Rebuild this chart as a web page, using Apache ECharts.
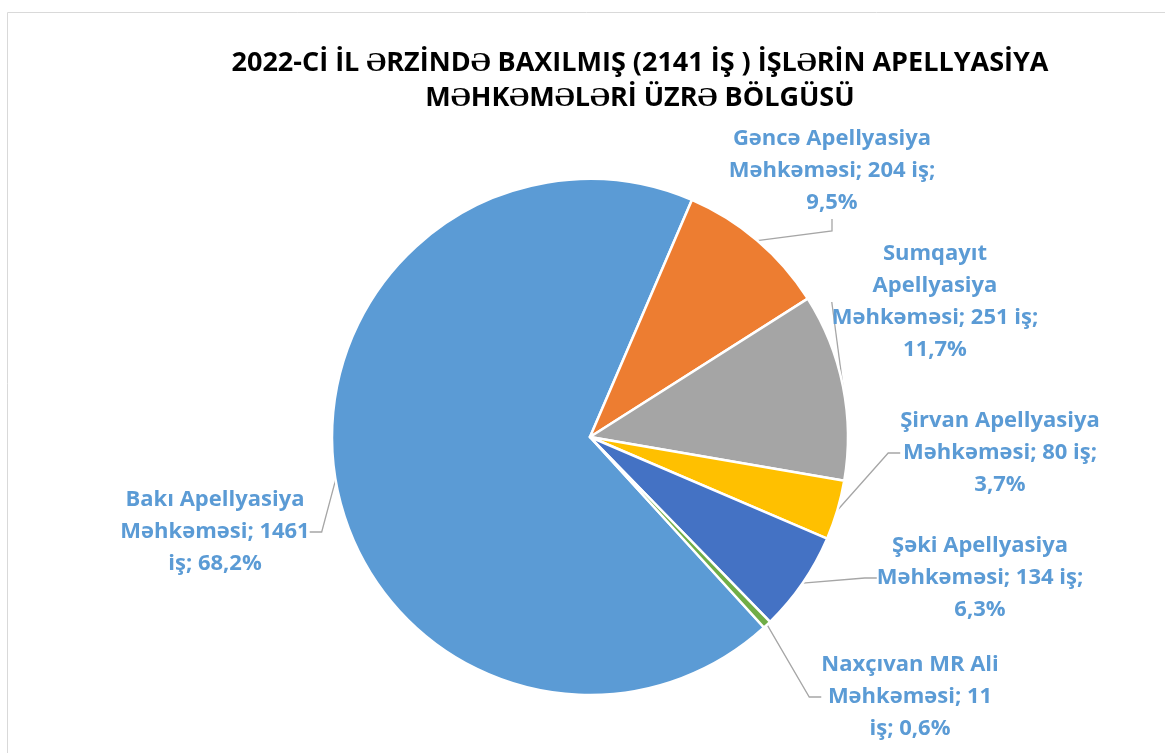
<!DOCTYPE html>
<html>
<head>
<meta charset="utf-8">
<script src="https://cdn.jsdelivr.net/npm/echarts@6/dist/echarts.min.js"></script>
<style>
html,body{margin:0;padding:0;background:#fff;overflow:hidden;}
#chart{width:1165px;height:753px;}
</style>
</head>
<body>
<div id="chart"></div>
<script>
var courts = ['Bakı Apellyasiya\nMəhkəməsi; ', 'Gəncə Apellyasiya\nMəhkəməsi; ', 'Sumqayıt\nApellyasiya\nMəhkəməsi; ', 'Şirvan Apellyasiya\nMəhkəməsi; ', 'Şəki Apellyasiya\nMəhkəməsi; ', 'Naxçıvan MR Ali\nMəhkəməsi; '];
var cases = [1461, 204, 251, 80, 134, 11];
var percents = ['68,2%', '9,5%', '11,7%', '3,7%', '6,3%', '0,6%'];
var colors = ['#5B9BD5', '#ED7D31', '#A5A5A5', '#FFC000', '#4472C4', '#70AD47'];
// where each label box sits (center), like in the excel sheet
var labelPos = [[215, 532], [832, 171], [935, 302], [1000, 453], [980, 578], [910, 697]];

var chart = echarts.init(document.getElementById('chart'));

var data = cases.map(function (v, i) {
    return {name: courts[i], value: v, itemStyle: {color: colors[i]}};
});

var option = {
    title: {
        text: '2022-Cİ İL ƏRZİNDƏ BAXILMIŞ (2141 İŞ ) İŞLƏRİN APELLYASİYA\nMƏHKƏMƏLƏRİ ÜZRƏ BÖLGÜSÜ',
        left: 635,
        top: 41,
        textAlign: 'center',
        textStyle: {
            fontFamily: 'Open Sans',
            fontWeight: 'bold',
            fontSize: 27,
            lineHeight: 35,
            color: '#000'
        }
    },
    graphic: [{
        type: 'rect',
        shape: {x: 7.5, y: 12.5, width: 1200, height: 800},
        style: {fill: 'none', stroke: '#d9d9d9', lineWidth: 1},
        silent: true
    }],
    series: [{
        type: 'pie',
        center: [590, 437],
        radius: 258,
        startAngle: -47.6,
        clockwise: true,
        animation: false,
        itemStyle: {
            borderColor: '#fff',
            borderWidth: 2.5
        },
        label: {
            show: true,
            position: 'outside',
            fontFamily: 'Open Sans',
            fontWeight: 'bold',
            fontSize: 22,
            lineHeight: 32,
            color: '#5B9BD5',
            formatter: function (p) {
                var t = p.name + p.value;
                if (p.dataIndex === 0 || p.dataIndex === 5) {
                    return t + '\niş; ' + percents[p.dataIndex];
                }
                return t + ' iş;\n' + percents[p.dataIndex];
            }
        },
        labelLine: {
            show: true,
            length: 15,
            length2: 12,
            lineStyle: {color: '#a6a6a6', width: 1.3}
        },
        labelLayout: function (params) {
            var pos = labelPos[params.dataIndex];
            return {
                x: pos[0],
                y: pos[1],
                align: 'center',
                verticalAlign: 'middle'
            };
        },
        data: data
    }]
};

chart.setOption(option);
</script>
</body>
</html>
